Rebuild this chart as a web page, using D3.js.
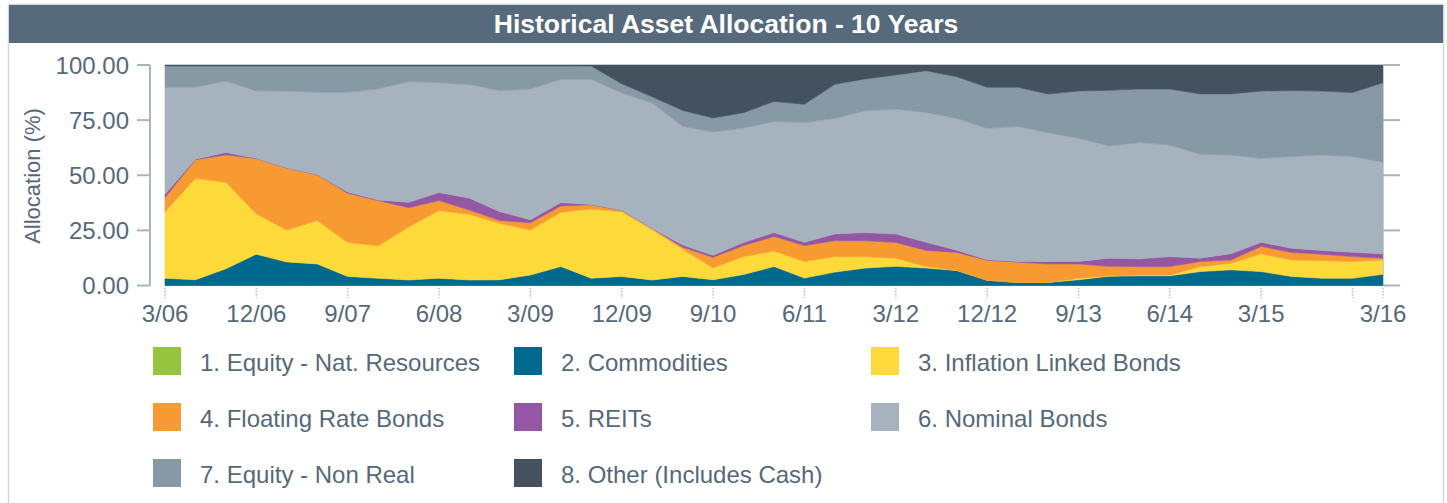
<!DOCTYPE html>
<html>
<head>
<meta charset="utf-8">
<script src="https://cdn.jsdelivr.net/npm/d3@7"></script>
<style>
  html, body { margin: 0; padding: 0; background: #ffffff; }
  svg { display: block; font-family: "Liberation Sans", Arial, sans-serif; }
</style>
</head>
<body>
<svg id="chart" width="1447" height="503"></svg>
<script>
// Quarter-end dates, 3/06 through 3/16
const quarters = [
  "3/06","6/06","9/06","12/06","3/07","6/07","9/07","12/07",
  "3/08","6/08","9/08","12/08","3/09","6/09","9/09","12/09",
  "3/10","6/10","9/10","12/10","3/11","6/11","9/11","12/11",
  "3/12","6/12","9/12","12/12","3/13","6/13","9/13","12/13",
  "3/14","6/14","9/14","12/14","3/15","6/15","9/15","12/15","3/16"
];

// Allocation (%) per quarter for each asset class
const equityNatResources = new Array(41).fill(0);
const commodities = [3.3,2.6,7.6,14.2,10.7,9.8,4.1,3.3,2.5,3.3,2.5,2.6,4.8,8.6,3.3,4.1,2.5,4.1,2.6,5.0,8.6,3.4,6.1,7.9,8.7,7.9,6.8,2.4,1.4,1.4,2.6,4.2,4.4,4.4,6.3,7.1,6.3,4.1,3.3,3.3,5.1];
const inflationLinkedBonds = [30.2,46.0,39.2,18.3,14.5,19.7,15.4,14.7,24.0,30.7,29.8,25.6,20.4,24.6,31.4,29.4,22.9,12.4,5.4,8.1,7.1,7.5,7.1,5.1,3.7,0.7,0.1,0.0,0.0,0.0,0.7,0.2,0.4,0.4,2.3,3.0,8.1,7.5,8.0,7.6,6.5];
const floatingRateBonds = [6.4,8.4,12.4,25.1,28.0,20.7,22.3,20.5,8.8,4.5,1.9,1.3,3.3,2.9,1.9,0.5,0.4,0.9,4.8,5.0,6.5,7.2,7.1,7.3,7.1,7.3,8.1,9.0,9.2,8.4,6.5,4.3,3.8,3.8,2.3,1.5,3.3,3.4,2.9,2.2,0.8];
const reits = [1.5,0.3,1.1,0.1,0.1,0.1,0.6,0.3,2.4,3.7,5.4,4.0,1.3,1.5,0.1,0.1,0.1,1.0,0.9,1.4,1.8,1.5,3.1,3.7,3.9,3.7,1.0,0.3,0.3,1.1,1.1,3.7,3.5,4.5,1.5,2.8,1.9,1.9,1.7,2.0,2.0];
const nominalBonds = [48.5,32.7,32.4,30.6,34.9,37.3,45.2,50.4,54.8,49.8,51.6,54.9,59.3,55.9,56.8,53.2,56.9,53.8,55.9,51.9,50.4,54.3,52.4,55.3,56.6,58.9,59.8,59.6,61.2,58.4,55.9,50.9,52.7,50.6,47.1,44.8,38.1,41.6,43.3,43.4,41.5];
const equityNonReal = [9.7,9.6,6.9,11.3,11.4,12.0,12.0,10.4,7.1,7.6,8.4,11.2,10.5,6.1,6.0,4.2,2.8,7.2,6.4,7.0,9.1,8.3,15.5,14.4,15.5,18.9,18.9,18.6,17.8,17.5,21.4,25.2,24.3,25.4,27.4,27.7,30.5,29.9,29.0,29.0,36.1];
const otherInclCash = [0.4,0.4,0.4,0.4,0.4,0.4,0.4,0.4,0.4,0.4,0.4,0.4,0.4,0.4,0.5,8.5,14.4,20.6,24.0,21.6,16.5,17.8,8.7,6.3,4.5,2.6,5.3,10.1,10.1,13.2,11.8,11.5,10.9,10.9,13.1,13.1,11.8,11.6,11.8,12.5,8.0];

const seriesNames = [
  "1. Equity - Nat. Resources", "2. Commodities", "3. Inflation Linked Bonds",
  "4. Floating Rate Bonds", "5. REITs", "6. Nominal Bonds",
  "7. Equity - Non Real", "8. Other (Includes Cash)"
];
const seriesColors = ["#97c43d", "#00698e", "#fdd93a", "#f89a32", "#9557a4", "#a6b2bd", "#8899a6", "#44525f"];
const seriesValues = [equityNatResources, commodities, inflationLinkedBonds, floatingRateBonds, reits, nominalBonds, equityNonReal, otherInclCash];

// Axis ticks
const yTicks = [0, 25, 50, 75, 100];
const xTickQuarters = ["3/06","12/06","9/07","6/08","3/09","12/09","9/10","6/11","3/12","12/12","9/13","6/14","3/15","12/15","3/16"];
const xLabelQuarters = ["3/06","12/06","9/07","6/08","3/09","12/09","9/10","6/11","3/12","12/12","9/13","6/14","3/15","3/16"];

const textColor = "#56697a";
const axisColor = "#aab5c0";

const svg = d3.select("#chart");

// Frame and title bar
svg.append("rect").attr("x", 8.5).attr("y", 4.5).attr("width", 1435).attr("height", 520)
  .attr("fill", "none").attr("stroke", "#d3d8dd").attr("stroke-width", 1.5);
svg.append("rect").attr("x", 9).attr("y", 5).attr("width", 1434).attr("height", 38).attr("fill", "#566a7b");
svg.append("text").attr("x", 726).attr("y", 33).attr("text-anchor", "middle")
  .attr("fill", "#ffffff").attr("font-weight", "bold").attr("font-size", 26.5)
  .text("Historical Asset Allocation - 10 Years");

// Scales
const x = d3.scalePoint().domain(quarters).range([165, 1383]);
const y = d3.scaleLinear().domain([0, 100]).range([285.5, 65]);

// Stacked areas
const rows = quarters.map((q, i) => {
  const r = { q };
  seriesNames.forEach((name, k) => { r[name] = seriesValues[k][i]; });
  return r;
});
const stacked = d3.stack().keys(seriesNames)(rows);
const area = d3.area()
  .x(d => x(d.data.q))
  .y0(d => y(d[0]))
  .y1(d => y(d[1]));

svg.append("g").selectAll("path").data(stacked).join("path")
  .attr("d", area)
  .attr("fill", (d, i) => seriesColors[i])
  .attr("stroke", (d, i) => seriesColors[i])
  .attr("stroke-width", 0.6);

// Left value axis (offset from the plot)
const leftAxis = svg.append("g");
leftAxis.append("line").attr("x1", 150).attr("x2", 150).attr("y1", y(100)).attr("y2", y(0))
  .attr("stroke", axisColor).attr("stroke-width", 2);
leftAxis.selectAll("line.tick").data(yTicks).join("line").attr("class", "tick")
  .attr("x1", 137).attr("x2", 150).attr("y1", d => y(d)).attr("y2", d => y(d))
  .attr("stroke", axisColor).attr("stroke-width", 2);
leftAxis.selectAll("text").data(yTicks).join("text")
  .attr("x", 129).attr("y", d => y(d) + 8.5).attr("text-anchor", "end")
  .attr("fill", textColor).attr("font-size", 24)
  .text(d => d3.format(".2f")(d));

// Right axis line with ticks
const rightAxis = svg.append("g");
rightAxis.append("line").attr("x1", 1383.5).attr("x2", 1383.5).attr("y1", y(100)).attr("y2", y(0))
  .attr("stroke", "#c4ccd4").attr("stroke-width", 1);
rightAxis.selectAll("line.tick").data(yTicks).join("line").attr("class", "tick")
  .attr("x1", 1383).attr("x2", 1400).attr("y1", d => y(d)).attr("y2", d => y(d))
  .attr("stroke", axisColor).attr("stroke-width", 2);

// Y axis title
svg.append("text")
  .attr("transform", "translate(40,176) rotate(-90)")
  .attr("text-anchor", "middle").attr("fill", textColor).attr("font-size", 22)
  .text("Allocation (%)");

// Date axis: dotted ticks and labels
const xAxis = svg.append("g");
xAxis.selectAll("line").data(xTickQuarters).join("line")
  .attr("x1", d => x(d)).attr("x2", d => x(d)).attr("y1", 288).attr("y2", 298)
  .attr("stroke", "#b8c0c8").attr("stroke-width", 1.5).attr("stroke-dasharray", "1.5,1.5");
xAxis.selectAll("text").data(xLabelQuarters).join("text")
  .attr("x", d => x(d)).attr("y", 322).attr("text-anchor", "middle")
  .attr("fill", textColor).attr("font-size", 24)
  .text(d => d);

// Legend: three columns
const legendCols = [153, 514, 871];
const legend = svg.append("g").selectAll("g").data(seriesNames).join("g")
  .attr("transform", (d, i) => `translate(${legendCols[i % 3]},${347 + Math.floor(i / 3) * 56})`);
legend.append("rect").attr("width", 28).attr("height", 28)
  .attr("fill", (d, i) => seriesColors[i]);
legend.append("text").attr("x", 47).attr("y", 24)
  .attr("fill", textColor).attr("font-size", 24)
  .text(d => d);
</script>
</body>
</html>
